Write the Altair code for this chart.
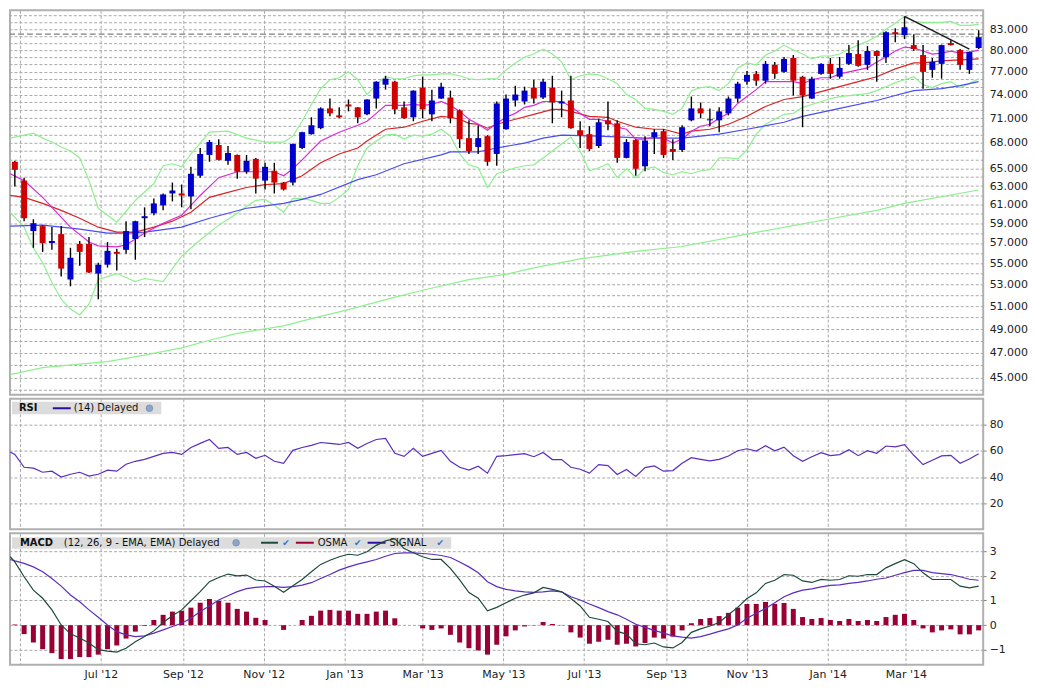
import altair as alt
import pandas as pd
from datetime import datetime, timedelta

START = datetime(2012, 4, 27)


def wdate(i):
    return (START + timedelta(days=7 * i)).strftime("%Y-%m-%dT%H:%M:%SZ")


# ---------------- weekly candles ----------------
opens = [65.75, 63.61, 58.21, 58.72, 57.0, 57.9, 53.46, 56.91, 56.91, 54.02,
         54.87, 56.12, 56.32, 57.4, 59.54, 60.06, 60.9, 62.19, 62.19, 61.86,
         64.16, 66.55, 67.72, 65.86, 66.55, 64.61, 66.09, 63.61, 64.72, 63.39,
         63.39, 67.36, 69.02, 69.75, 72.22, 71.34, 72.72, 72.35, 71.47, 73.48,
         75.29, 75.69, 72.35, 71.1, 74.9, 71.47, 73.48, 73.61, 71.97, 68.54,
         67.48, 68.78, 66.66, 69.62, 73.23, 73.1, 74.9, 73.61, 74.9, 72.85,
         73.23, 69.5, 69.02, 67.6, 70.72, 70.35, 66.2, 68.31, 65.23, 68.66,
         69.38, 67.25, 67.13, 70.72, 72.22, 70.72, 70.72, 71.59, 73.48, 75.69,
         76.74, 75.82, 77.96, 77.01, 78.91, 76.35, 73.48, 76.74, 78.1, 76.35,
         78.1, 79.46, 77.96, 79.88, 79.05, 82.57, 82.14, 80.72, 79.32, 77.28,
         78.1, 81.0, 80.02, 77.28, 80.3]
highs = [65.86, 63.94, 59.43, 58.8, 58.62, 58.72, 56.52, 57.2, 57.6, 55.06,
         57.1, 56.42, 59.23, 59.28, 60.69, 61.65, 62.19, 63.39, 63.17, 65.17,
         67.36, 68.31, 68.42, 67.6, 66.6, 66.55, 66.2, 65.63, 65.63, 63.45,
         67.9, 69.3, 71.1, 72.35, 73.48, 72.35, 73.36, 72.41, 73.4, 75.75,
         76.48, 75.82, 73.1, 74.55, 76.35, 74.64, 75.56, 74.51, 72.09, 70.72,
         70.11, 68.9, 73.1, 74.0, 75.16, 75.03, 75.95, 76.09, 76.48, 74.51,
         76.48, 70.6, 69.99, 70.85, 73.1, 70.72, 68.42, 68.42, 68.78, 69.62,
         69.62, 68.42, 70.11, 73.74, 72.97, 72.22, 72.35, 73.74, 75.69, 77.14,
         77.14, 78.5, 78.37, 79.05, 79.32, 76.48, 76.35, 78.2, 78.91, 79.05,
         80.72, 81.42, 80.58, 79.95, 82.71, 83.15, 84.9, 82.28, 80.72, 78.91,
         80.79, 81.42, 80.16, 79.81, 82.86]
lows = [62.95, 59.23, 56.52, 56.12, 56.32, 53.74, 52.82, 54.77, 54.07, 51.64,
        54.59, 54.31, 55.93, 55.35, 57.6, 59.85, 60.37, 61.33, 60.69, 60.48,
        63.94, 65.75, 65.9, 65.4, 63.83, 64.38, 62.19, 62.62, 62.19, 62.51,
        63.06, 67.25, 68.96, 69.62, 71.22, 70.97, 71.84, 70.35, 71.34, 72.22,
        74.64, 71.47, 70.91, 70.6, 70.97, 70.6, 73.42, 70.35, 67.36, 66.66,
        66.66, 65.29, 65.29, 69.56, 72.47, 72.72, 72.85, 73.42, 70.35, 71.1,
        69.69, 67.36, 67.01, 67.36, 69.5, 65.63, 66.14, 64.16, 64.66, 66.66,
        66.2, 65.97, 66.9, 70.6, 70.97, 69.99, 69.26, 71.34, 72.97, 75.29,
        75.16, 75.43, 76.09, 76.88, 73.87, 69.87, 73.42, 76.61, 76.09, 76.09,
        77.96, 77.69, 77.28, 75.69, 78.23, 81.14, 81.57, 79.88, 74.77, 76.22,
        76.09, 80.65, 77.28, 76.74, 80.16]
closes = [64.83, 59.54, 59.02, 57.0, 57.2, 54.49, 55.54, 56.12, 54.12, 54.87,
          56.22, 55.93, 58.21, 59.23, 59.75, 61.11, 62.08, 62.51, 61.97, 64.38,
          66.66, 68.07, 65.97, 66.78, 64.61, 65.86, 63.83, 65.17, 63.39, 62.62,
          67.84, 69.26, 70.11, 72.22, 71.59, 71.1, 72.47, 71.1, 73.36, 75.69,
          76.09, 72.09, 70.97, 74.51, 72.09, 73.23, 75.03, 70.97, 68.42, 67.01,
          68.54, 65.75, 72.85, 73.48, 74.0, 74.51, 73.48, 75.69, 72.97, 73.1,
          69.75, 68.9, 67.25, 70.48, 70.23, 66.2, 68.07, 64.95, 68.25, 69.26,
          66.55, 66.9, 69.87, 72.22, 71.59, 70.85, 71.84, 73.48, 75.43, 76.61,
          75.82, 78.1, 76.74, 78.78, 75.82, 73.87, 76.09, 78.1, 76.74, 77.55,
          79.6, 77.82, 79.88, 79.19, 82.57, 82.28, 83.29, 80.16, 77.01, 78.37,
          80.72, 80.72, 77.96, 79.74, 81.85]

# ---------------- overlays (week index, value) ----------------
bb_up_idx = [-0.5, 2, 3, 4, 5, 6, 7, 8, 9, 11, 13, 15, 16, 17, 18, 19, 20, 21, 23, 25, 27, 29] + list(range(30, 105))
bb_up_val = [68.54, 69.14, 68.54, 68.07, 67.48, 67.01, 66.2, 63.61, 60.59, 59.13, 61.43, 63.28, 65.29, 65.52,
             65.17, 66.66, 67.95, 69.26, 69.38, 68.54, 68.07, 68.07,
             68.78, 70.6, 72.72, 74.77, 75.95, 76.22, 77.01, 75.95, 73.99, 75.29,
             76.35, 76.08, 76.08, 76.48, 76.61, 76.61, 76.74, 76.74, 76.48, 76.08,
             75.95, 76.08, 76.08, 77.28, 78.23, 79.05, 79.46, 80.16, 79.46, 78.37,
             75.95, 76.48, 76.74, 76.61, 76.08, 75.43, 73.99, 73.36, 72.22, 72.09,
             71.84, 71.47, 72.22, 74.51, 74.9, 75.03, 74.51, 75.43, 77.55, 78.23,
             77.96, 79.32, 79.88, 80.72, 80.02, 79.46, 78.78, 79.19, 79.19, 79.46,
             80.16, 80.72, 81.28, 81.99, 83.0, 83.87, 84.9, 84.16, 84.0, 84.0,
             84.0, 84.16, 83.58, 83.58, 83.72]
bb_lo_idx = [-0.5, 1, 2, 3, 4, 5, 6, 7, 8, 9, 11, 13, 14, 16, 17, 18, 20, 22, 24, 25, 26, 27, 28, 29] + list(range(30, 105))
bb_lo_val = [60.16, 58.61, 56.51, 55.06, 53.18, 51.64, 50.75, 50.23, 51.19, 53.46, 54.02, 53.27, 53.55, 53.27,
             54.5, 55.7, 57.3, 58.82, 60.05, 60.8, 61.43, 61.54, 60.9, 60.16,
             61.65, 61.65, 61.43, 61.11, 61.11, 61.76, 62.62, 65.29, 67.36, 68.19,
             68.9, 69.02, 68.42, 68.9, 68.78, 69.02, 69.62, 68.78, 66.66, 65.4,
             65.06, 62.84, 64.38, 64.72, 65.06, 65.29, 65.4, 66.2, 67.01, 67.84,
             68.66, 67.01, 64.72, 65.06, 65.52, 63.94, 64.95, 63.94, 64.95, 65.17,
             64.5, 64.27, 64.61, 64.38, 64.72, 64.83, 66.2, 66.2, 66.09, 67.13,
             69.02, 70.23, 70.85, 71.47, 71.59, 72.35, 72.72, 73.1, 73.48, 73.74,
             73.87, 73.99, 74.12, 74.51, 75.03, 75.56, 75.95, 76.35, 75.29, 74.9,
             75.43, 75.69, 74.9, 75.43, 76.08]
ema_fast_idx = [-0.5, 1, 3, 4, 6, 8, 9, 11, 12, 14, 16, 18, 20, 22, 24, 26, 28, 29, 30, 31, 33, 35, 37] + list(range(38, 105))
ema_fast_val = [64.38, 63.61, 61.76, 60.69, 58.61, 57.1, 56.71, 56.61, 56.81, 58.0, 59.02, 59.85, 61.97,
                63.94, 64.61, 64.61, 64.61, 64.16, 64.95, 65.97, 68.19, 69.26, 70.11,
                70.6, 71.59, 72.6, 72.6, 72.6, 72.72, 72.6, 72.72, 73.1, 72.6,
                71.84, 70.85, 70.23, 69.5, 70.35, 71.1, 71.59, 72.35, 72.6, 73.1,
                73.1, 73.1, 72.47, 71.59, 70.85, 70.85, 70.6, 69.87, 69.62, 68.42,
                68.42, 68.66, 68.54, 67.95, 68.42, 69.38, 69.99, 70.23, 70.97, 71.59,
                72.85, 73.74, 74.64, 75.69, 75.69, 75.69, 75.69, 75.43, 75.95, 76.22,
                76.22, 76.74, 77.01, 77.28, 77.55, 78.37, 79.05, 79.88, 80.44, 80.3,
                79.88, 79.46, 79.6, 79.88, 79.6, 79.74, 80.02]
ema_mid_idx = [-0.5, 1, 3, 5, 7, 9, 11, 13, 15, 17, 19, 21, 23, 25, 27, 29, 31, 33, 35, 37, 38, 40, 42,
               44, 46, 47, 48, 49, 50, 51, 52, 54, 56, 58, 59, 60, 62, 64, 65, 67, 69, 70, 72, 73, 75,
               77, 79, 81, 83, 85, 87, 89, 91, 93, 95, 97, 98, 100, 102, 104]
ema_mid_val = [61.97, 61.76, 61.11, 60.37, 59.54, 58.61, 58.11, 58.11, 58.61, 59.23, 60.16, 61.76, 62.3,
               62.84, 63.17, 63.28, 64.16, 65.63, 66.66, 67.36, 68.19, 69.62, 69.87,
               70.6, 71.22, 71.1, 70.85, 70.35, 70.23, 69.75, 70.23, 70.85, 71.47, 72.09, 72.09, 71.84,
               71.22, 71.1, 70.6, 69.87, 69.62, 69.62, 69.02, 69.38, 69.62,
               70.23, 71.22, 72.47, 73.36, 73.74, 74.38, 75.03, 75.69, 76.35, 77.42, 78.23, 78.23,
               78.5, 78.64, 78.78]
ema_slow_idx = [-0.5, 3, 7, 10, 12, 14, 18, 21, 25, 29, 31, 33, 37, 39, 42, 46, 47, 50, 52, 55, 57, 59,
                63, 68, 72, 76, 79, 83, 85, 89, 93, 95, 97, 100, 102, 104]
ema_slow_val = [58.72, 58.82, 58.41, 58.0, 58.0, 58.11, 58.61, 59.54, 60.59, 61.11, 61.54, 62.08, 63.72,
                64.27, 65.52, 66.55, 66.9, 66.9, 67.36, 67.95, 68.54, 68.9,
                68.78, 68.54, 68.54, 69.02, 69.62, 70.48, 71.22, 72.22, 73.23, 73.87, 74.51, 74.77,
                75.16, 75.69]
ma200_idx = [-0.5, 3, 7, 10, 14, 18, 21, 24, 29, 32, 36, 40, 44, 49, 53, 56, 61, 67, 72, 79, 88, 93, 96, 104]
ma200_val = [45.23, 45.79, 46.07, 46.27, 46.8, 47.41, 48.04, 48.63, 49.27, 49.91, 50.7, 51.6, 52.46,
             53.44, 53.95, 54.57, 55.43, 56.16, 56.65, 57.9, 59.48, 60.37, 61.11, 62.57]
last_level = [82.28]
trend_idx = [96, 103]
trend_val = [84.9, 80.16]

# ---------------- indicators ----------------
rsi_lead = 59.2
rsi_vals = [57.4, 47.5, 46.8, 43.7, 44.5, 40.0, 42.2, 43.7, 40.7, 42.2,
            45.3, 44.5, 49.8, 52.1, 53.6, 55.9, 58.2, 58.9, 57.4, 62.7,
            65.8, 68.8, 62.0, 62.7, 57.4, 58.9, 54.4, 56.7, 52.1, 50.6,
            60.5, 62.7, 64.3, 66.5, 65.8, 65.0, 66.5, 62.0, 65.8, 68.8,
            69.6, 58.2, 55.9, 62.0, 55.9, 58.2, 60.5, 52.1, 47.5, 45.3,
            48.3, 43.0, 55.9, 56.4, 57.2, 57.9, 55.6, 58.9, 53.4, 53.4,
            47.5, 46.0, 43.0, 49.6, 48.8, 42.0, 45.8, 40.5, 47.3, 48.6,
            44.5, 45.0, 50.6, 54.9, 53.6, 52.4, 53.6, 56.2, 60.2, 61.7,
            59.9, 64.0, 60.2, 63.0, 56.4, 52.1, 55.6, 58.7, 56.4, 57.2,
            60.9, 56.4, 60.2, 58.2, 63.8, 63.2, 64.8, 56.7, 49.6, 52.9,
            56.2, 56.7, 50.6, 53.9, 57.9]
macd_lead = 2.77
macd_vals = [2.56, 1.96, 1.42, 1.09, 0.62, 0.01, -0.35, -0.52, -0.72, -0.99,
             -1.05, -1.09, -0.93, -0.67, -0.46, -0.23, 0.11, 0.38, 0.62, 0.99,
             1.36, 1.76, 1.93, 2.07, 2.0, 2.03, 1.83, 1.79, 1.58, 1.33,
             1.6, 1.85, 2.16, 2.46, 2.63, 2.77, 2.87, 2.83, 2.97, 3.23,
             3.41, 3.5, 3.1, 2.93, 2.77, 2.66, 2.66, 2.3, 1.83, 1.32,
             1.09, 0.58, 0.72, 0.91, 1.09, 1.22, 1.31, 1.53, 1.45, 1.35,
             1.08, 0.78, 0.32, 0.24, 0.15, -0.25, -0.36, -0.75, -0.79, -0.72,
             -0.88, -0.92, -0.70, -0.29, -0.15, -0.03, 0.11, 0.42, 0.72, 1.08,
             1.31, 1.69, 1.82, 2.05, 2.02, 1.79, 1.73, 1.85, 1.82, 1.85,
             2.0, 1.98, 2.05, 2.05, 2.32, 2.49, 2.65, 2.49, 2.12, 1.85,
             1.85, 1.85, 1.58, 1.51, 1.58]
signal_lead = 2.66
signal_vals = [2.6, 2.5, 2.36, 2.16, 1.89, 1.58, 1.22, 0.95, 0.62, 0.32,
               0.01, -0.26, -0.39, -0.46, -0.43, -0.32, -0.19, -0.05, 0.08, 0.28,
               0.55, 0.78, 1.02, 1.19, 1.36, 1.48, 1.53, 1.56, 1.56, 1.53,
               1.56, 1.62, 1.72, 1.89, 2.05, 2.23, 2.36, 2.47, 2.56, 2.66,
               2.79, 2.9, 2.93, 2.93, 2.9, 2.87, 2.82, 2.74, 2.56, 2.36,
               2.12, 1.76, 1.56, 1.45, 1.39, 1.35, 1.33, 1.35, 1.39, 1.35,
               1.15, 1.02, 0.86, 0.71, 0.55, 0.42, 0.24, 0.04, -0.09, -0.21,
               -0.32, -0.43, -0.48, -0.52, -0.46, -0.36, -0.25, -0.15, 0.01, 0.28,
               0.48, 0.68, 0.91, 1.15, 1.31, 1.42, 1.47, 1.55, 1.61, 1.63,
               1.69, 1.73, 1.79, 1.86, 1.91, 2.02, 2.13, 2.22, 2.22, 2.13,
               2.09, 2.05, 1.96, 1.86, 1.82]
osma_vals = [0.03, -0.36, -0.70, -0.97, -1.13, -1.37, -1.37, -1.29, -1.29, -1.19,
             -0.97, -0.82, -0.54, -0.26, -0.03, 0.21, 0.42, 0.55, 0.58, 0.71,
             0.91, 1.06, 0.98, 0.91, 0.66, 0.55, 0.30, 0.21, 0.0, -0.19,
             0.0, 0.21, 0.38, 0.59, 0.62, 0.59, 0.59, 0.46, 0.46, 0.55,
             0.59, 0.28, 0.0, 0.0, -0.13, -0.19, -0.13, -0.39, -0.70, -0.93,
             -1.02, -1.19, -0.79, -0.45, -0.21, -0.05, -0.01, 0.13, 0.05, 0.01,
             -0.29, -0.50, -0.75, -0.67, -0.59, -0.79, -0.75, -0.86, -0.72, -0.50,
             -0.54, -0.46, -0.21, 0.08, 0.25, 0.29, 0.37, 0.50, 0.71, 0.86,
             0.86, 0.94, 0.86, 0.90, 0.66, 0.33, 0.25, 0.29, 0.21, 0.17,
             0.25, 0.17, 0.21, 0.17, 0.33, 0.42, 0.46, 0.21, -0.13, -0.29,
             -0.21, -0.17, -0.37, -0.37, -0.21]

price_labels = [45, 47, 49, 51, 53, 55, 57, 59, 61, 63, 65, 68, 71, 74, 77, 80, 83]
price_grid = list(range(45, 85))
edge_grid = [44, 85]
month_ticks = [(2012, 5), (2012, 7), (2012, 9), (2012, 11), (2013, 1), (2013, 3), (2013, 5),
               (2013, 7), (2013, 9), (2013, 11), (2014, 1), (2014, 3)]

# ---------------- frames ----------------
n = len(opens)
candles = pd.DataFrame({
    "date": [wdate(i) for i in range(n)],
    "open": opens, "high": highs, "low": lows, "close": closes,
    "dir": ["up" if c >= o else "down" for o, c in zip(opens, closes)],
})


def series(idx, vals):
    return pd.DataFrame({"date": [wdate(i) for i in idx], "v": vals})


idx_all = [-0.5] + list(range(n))
rsi_df = series(idx_all, [rsi_lead] + rsi_vals)
macd_df = series(idx_all, [macd_lead] + macd_vals)
sig_df = series(idx_all, [signal_lead] + signal_vals)
osma_df = series(list(range(n)), osma_vals)

# ---------------- scales / axes ----------------
FONT = "DejaVu Sans"
GRID = "#a9a9a9"
X_SCALE = alt.Scale(type="utc", nice=False, padding=0, domain=[
    alt.DateTime(year=2012, month=4, date=23, hours=8, utc=True),
    alt.DateTime(year=2014, month=4, date=28, hours=10, utc=True)])
tick_vals = [alt.DateTime(year=y, month=m, date=1, utc=True) for y, m in month_ticks]
x_plain = alt.Axis(values=tick_vals, grid=True, gridDash=[3, 2], gridColor=GRID, labels=False,
                   ticks=False, domain=False, title=None)
x_lab = alt.Axis(values=tick_vals, grid=True, gridDash=[3, 2], gridColor=GRID, labels=True,
                 ticks=False, domain=False, title=None, labelPadding=4, labelOverlap=False,
                 labelExpr="datum.value < 1338508800000 ? '' : utcFormat(datum.value, \"%b '%y\")")

lab_list = ",".join(str(v) for v in price_labels)
Y_PRICE = alt.Scale(type="log", domain=[43.65, 85.81], nice=False)
y_price_axis = alt.Axis(orient="right", values=price_grid, grid=True, gridDash=[3, 2], gridColor=GRID,
                        ticks=False, domain=False, title=None, labelPadding=6, labelOverlap=False,
                        labelExpr="indexof([" + lab_list + "], datum.value) >= 0 ? format(datum.value, '.3f') : ''")


def XP():
    return alt.X("date:T", scale=X_SCALE, axis=x_plain, title=None)


def XL():
    return alt.X("date:T", scale=X_SCALE, axis=x_lab, title=None)


def YP(field):
    return alt.Y(field, scale=Y_PRICE, axis=y_price_axis, title=None)


def price_line(idx, vals, color, width=1.2):
    return alt.Chart(series(idx, vals)).mark_line(color=color, strokeWidth=width, clip=True).encode(
        x=XP(), y=YP("v:Q"))


band_green = "#8ef08e"
main = alt.layer(
    alt.Chart(pd.DataFrame({"v": edge_grid})).mark_rule(
        color=GRID, strokeDash=[3, 2], strokeWidth=1).encode(y=YP("v:Q")),
    price_line(ma200_idx, ma200_val, band_green),
    price_line(bb_up_idx, bb_up_val, band_green),
    price_line(bb_lo_idx, bb_lo_val, band_green),
    price_line(ema_slow_idx, ema_slow_val, "#4a4cf6"),
    price_line(ema_mid_idx, ema_mid_val, "#dd2424"),
    price_line(ema_fast_idx, ema_fast_val, "#dd28dd"),
    alt.Chart(pd.DataFrame({"v": last_level})).mark_rule(
        color="#808080", strokeDash=[6, 3], strokeWidth=1.3).encode(y=YP("v:Q")),
    alt.Chart(candles).mark_rule(color="#000000", strokeWidth=1.4).encode(
        x=XP(), y=YP("low:Q"), y2="high:Q"),
    alt.Chart(candles).mark_bar(size=6).encode(
        x=XP(), y=YP("open:Q"), y2="close:Q",
        color=alt.Color("dir:N", scale=alt.Scale(domain=["up", "down"], range=["#0000cc", "#d10000"]),
                        legend=None)),
    price_line(trend_idx, trend_val, "#1a1a1a", 1.3),
).properties(width=977, height=386)

# ---------------- RSI ----------------
Y_RSI = alt.Scale(domain=[0, 100], nice=False, zero=False)
y_rsi_axis = alt.Axis(orient="right", values=[20, 40, 60, 80], grid=True, gridDash=[3, 2], gridColor=GRID,
                      tickSize=3, tickColor="#888", domain=False, title=None, labelPadding=3)
one = pd.DataFrame({"a": [0]})


def label(text, x, y, bold=False, size=10, color="#111111"):
    return alt.Chart(pd.DataFrame({"t": [text]})).mark_text(
        align="left", baseline="middle", font=FONT, fontSize=size,
        fontWeight="bold" if bold else "normal", color=color).encode(
        x=alt.value(x), y=alt.value(y), text="t:N")


def swatch(x1, x2, y, color):
    return alt.Chart(one).mark_rule(color=color, strokeWidth=2).encode(
        x=alt.value(x1), x2=alt.value(x2), y=alt.value(y))


def globe(x, y):
    return alt.Chart(one).mark_point(filled=True, shape="circle", size=45, color="#6b8fc0",
                                     stroke="#3d5f8f", strokeWidth=0.6).encode(
        x=alt.value(x), y=alt.value(y))


def check(x, y):
    return alt.Chart(pd.DataFrame({"t": ["\u2714"]})).mark_text(
        align="center", baseline="middle", font=FONT, fontSize=9, color="#2f6fd0").encode(
        x=alt.value(x), y=alt.value(y), text="t:N")


rsi = alt.layer(
    alt.Chart(one).mark_rect(color="#dcdcdc").encode(
        x=alt.value(2), x2=alt.value(152), y=alt.value(3), y2=alt.value(15.5)),
    label("RSI", 9, 9.5, bold=True),
    swatch(43, 61, 9.5, "#2a0fa0"),
    label("(14) Delayed", 64, 9.5),
    globe(140, 9.5),
    alt.Chart(rsi_df).mark_line(color="#5a2dc0", strokeWidth=1.2, clip=True).encode(
        x=XP(), y=alt.Y("v:Q", scale=Y_RSI, axis=y_rsi_axis, title=None)),
).properties(width=977, height=131)

# ---------------- MACD ----------------
Y_MACD = alt.Scale(domain=[-1.6, 3.72], nice=False, zero=False)
y_macd_axis = alt.Axis(orient="right", values=[-1, 0, 1, 2, 3], grid=True, gridDash=[3, 2], gridColor=GRID,
                       tickSize=3, tickColor="#888", domain=False, title=None, labelPadding=3)
macd = alt.layer(
    alt.Chart(one).mark_rect(color="#dcdcdc").encode(
        x=alt.value(2), x2=alt.value(443), y=alt.value(4), y2=alt.value(15.5)),
    label("MACD", 10, 9.5, bold=True),
    label("(12, 26, 9 - EMA, EMA) Delayed", 54, 9.5),
    globe(227, 9.5),
    swatch(252, 269, 9.5, "#1d4a3c"),
    check(277, 9.5),
    swatch(287, 305, 9.5, "#990033"),
    label("OSMA", 309, 9.5),
    check(349, 9.5),
    swatch(359, 377, 9.5, "#2a0fa0"),
    label("SIGNAL", 381, 9.5),
    check(432, 9.5),
    alt.Chart(osma_df).mark_bar(size=5, color="#990033").encode(
        x=XL(), y=alt.Y("v:Q", scale=Y_MACD, axis=y_macd_axis, title=None), y2=alt.datum(0)),
    alt.Chart(sig_df).mark_line(color="#5a2dc0", strokeWidth=1.2, clip=True).encode(
        x=XL(), y=alt.Y("v:Q", scale=Y_MACD, axis=y_macd_axis, title=None)),
    alt.Chart(macd_df).mark_line(color="#1d4a3c", strokeWidth=1.2, clip=True).encode(
        x=XL(), y=alt.Y("v:Q", scale=Y_MACD, axis=y_macd_axis, title=None)),
).properties(width=977, height=132)

chart = alt.vconcat(main, rsi, macd, spacing=4, bounds="flush").properties(
    padding=0, background="white"
).configure_view(
    stroke="#b0b0b0", strokeWidth=2
).configure_axis(
    labelFont=FONT, labelFontSize=11, labelColor="#222222"
)

chart.save("out.html", embed_options={"renderer": "svg", "actions": False})
